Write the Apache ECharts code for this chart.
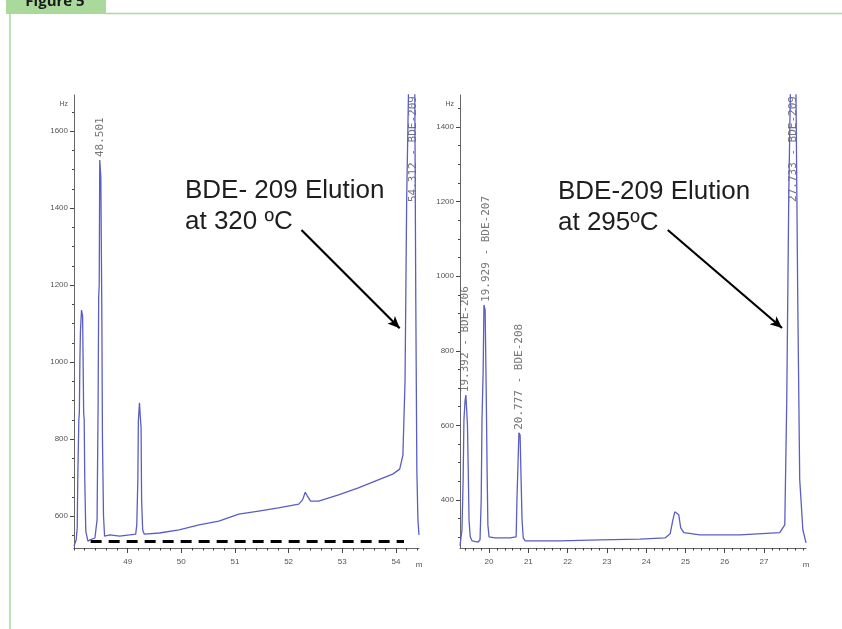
<!DOCTYPE html>
<html><head><meta charset="utf-8">
<script src="https://cdn.jsdelivr.net/npm/echarts@6/dist/echarts.min.js"></script>
<style>html,body{margin:0;padding:0;background:#fff}#c{width:842px;height:629px}</style>
</head><body><div id="c"></div><script>
// ---- data (time in min, abundance) ----
const leftTrace = [[48.00,522],[48.04,538],[48.06,569],[48.07,694],[48.09,849],[48.10,870],[48.11,1005],[48.12,1080],[48.14,1135],[48.15,1140],[48.16,1120],[48.17,1000],[48.18,868],[48.19,850],[48.20,700],[48.22,560],[48.26,535],[48.30,538],[48.39,543],[48.43,590],[48.45,900],[48.46,1169],[48.47,1200],[48.48,1525],[48.50,1480],[48.52,1100],[48.53,805],[48.55,600],[48.57,548],[48.67,551],[48.85,548],[49.04,551],[49.15,553],[49.17,577],[49.19,694],[49.20,849],[49.22,894],[49.24,850],[49.25,830],[49.26,642],[49.28,564],[49.31,553],[49.59,556],[49.96,564],[50.33,577],[50.70,587],[51.07,605],[51.44,613],[51.81,621],[52.19,631],[52.26,642],[52.31,662],[52.35,652],[52.41,639],[52.56,639],[52.93,655],[53.30,673],[53.67,694],[53.94,709],[54.07,722],[54.13,758],[54.17,953],[54.20,1421],[54.24,1750],[54.30,2600],[54.35,1750],[54.37,1161],[54.39,719],[54.41,590],[54.43,551]];
const rightTrace = [[19.26,277],[19.31,320],[19.34,454],[19.36,614],[19.39,668],[19.41,681],[19.43,641],[19.45,600],[19.47,480],[19.49,346],[19.52,301],[19.57,290],[19.72,287],[19.77,293],[19.80,400],[19.82,614],[19.85,748],[19.87,923],[19.90,909],[19.92,748],[19.93,668],[19.95,480],[19.97,333],[20.00,301],[20.15,298],[20.53,298],[20.69,301],[20.71,400],[20.74,507],[20.76,580],[20.79,574],[20.81,480],[20.84,346],[20.87,298],[20.92,290],[21.81,290],[22.82,293],[23.84,295],[24.48,298],[24.61,309],[24.68,346],[24.73,368],[24.78,373],[24.83,360],[24.88,325],[24.96,312],[25.37,306],[26.39,306],[27.40,312],[27.53,333],[27.58,668],[27.63,1204],[27.68,1550],[27.73,2800],[27.81,1550],[27.86,936],[27.91,454],[27.99,320],[28.07,285]];
const leftPeakLabels = [[48.48,1525,'48.501'],[54.312,1408,'54.312 - BDE-209']];
const rightPeakLabels = [[19.392,681,'19.392 - BDE-206'],[19.929,923,'19.929 - BDE-207'],[20.777,580,'20.777 - BDE-208'],[27.733,1191,'27.733 - BDE-209']];
const leftXTicks = [49,50,51,52,53,54];
const rightXTicks = [20,21,22,23,24,25,26,27];
const leftYTicks = [600,800,1000,1200,1400,1600];
const rightYTicks = [400,600,800,1000,1200,1400];
const leftArrow = [[52.24,1343],[54.07,1088]];
const rightArrow = [[24.55,1124],[27.46,861]];
const leftDashed = [[48.31,535],[54.15,535]];
const annotations = ['BDE- 209 Elution\nat 320 ºC','BDE-209 Elution\nat 295ºC'];
const xRange = {left:[48.0,54.43], right:[19.26,28.07]};
const yRange = {left:[517,1694], right:[271,1486]};

function steps(lo,hi,st){const o=[];for(let v=Math.ceil(lo/st-1e-9)*st;v<=hi+1e-9;v+=st)o.push(+v.toFixed(3));return o;}

const lineColor = '#5a5ec4';
const axisColor = '#666';
const lblStyle = {fontSize:8,color:'#555',fontFamily:'Liberation Sans',formatter:v=>String(v)};

function majorX(grid,rng,ticks){return {type:'value',gridIndex:grid,min:rng[0],max:rng[1],position:'bottom',
  name:'m',nameLocation:'end',nameGap:0,nameTextStyle:{fontSize:8,color:'#555',align:'center',verticalAlign:'top',padding:[13,0,0,0]},
  axisLine:{show:true,onZero:false,lineStyle:{color:axisColor,width:1}},
  axisTick:{show:true,customValues:ticks,length:5,lineStyle:{color:'#444'}},
  axisLabel:{customValues:ticks,margin:10,...lblStyle},splitLine:{show:false}};}
function minorX(grid,rng){return {type:'value',gridIndex:grid,min:rng[0],max:rng[1],position:'bottom',
  axisLine:{show:false,onZero:false},axisTick:{show:true,customValues:steps(rng[0],rng[1],0.2),length:2.5,lineStyle:{color:'#444'}},
  axisLabel:{show:false},splitLine:{show:false}};}
function majorY(grid,rng,ticks){return {type:'value',gridIndex:grid,min:rng[0],max:rng[1],position:'left',
  name:'Hz',nameLocation:'end',nameGap:-6,nameTextStyle:{fontSize:7,color:'#555',align:'right',verticalAlign:'top',padding:[0,6,0,0]},
  axisLine:{show:true,onZero:false,lineStyle:{color:axisColor,width:1}},
  axisTick:{show:true,customValues:ticks,length:4,lineStyle:{color:'#444'}},
  axisLabel:{customValues:ticks,margin:6,...lblStyle},splitLine:{show:false}};}
function minorY(grid,rng){return {type:'value',gridIndex:grid,min:rng[0],max:rng[1],position:'left',
  axisLine:{show:false,onZero:false},axisTick:{show:true,customValues:steps(rng[0],rng[1],50),length:2,lineStyle:{color:'#444'}},
  axisLabel:{show:false},splitLine:{show:false}};}

function peakLabelSeries(xi,yi,d){return {type:'scatter',xAxisIndex:xi,yAxisIndex:yi,symbolSize:0,silent:true,
  data:d.map(p=>({value:[p[0],p[1]],name:p[2]})),
  label:{show:true,formatter:p=>p.name,position:'top',distance:3,rotate:90,align:'left',verticalAlign:'middle',
    fontSize:11,fontFamily:'DejaVu Sans Mono',color:'#555'}};}

function arrowLine(a){return [{coord:a[0],symbol:'none'},{coord:a[1],symbol:'arrow',symbolSize:[8,12]}];}

const option = {
  animation:false,
  backgroundColor:'#fff',
  grid:[{left:74,top:95,width:345,height:453},{left:460,top:95,width:346,height:453}],
  xAxis:[majorX(0,xRange.left,leftXTicks),minorX(0,xRange.left),majorX(1,xRange.right,rightXTicks),minorX(1,xRange.right)],
  yAxis:[majorY(0,yRange.left,leftYTicks),minorY(0,yRange.left),majorY(1,yRange.right,rightYTicks),minorY(1,yRange.right)],
  series:[
    {type:'line',xAxisIndex:0,yAxisIndex:0,data:leftTrace,showSymbol:false,clip:true,
      lineStyle:{color:lineColor,width:1.3},
      markLine:{silent:true,label:{show:false},symbol:'none',animation:false,
        data:[
          [{coord:leftDashed[0],lineStyle:{color:'#000',width:3,type:[11,7]}},{coord:leftDashed[1]}],
          arrowLine(leftArrow)
        ],
        lineStyle:{color:'#000',width:2.2,type:'solid'}}},
    peakLabelSeries(0,0,leftPeakLabels),
    {type:'line',xAxisIndex:2,yAxisIndex:2,data:rightTrace,showSymbol:false,clip:true,
      lineStyle:{color:lineColor,width:1.3},
      markLine:{silent:true,label:{show:false},symbol:'none',animation:false,
        data:[arrowLine(rightArrow)],
        lineStyle:{color:'#000',width:2.2,type:'solid'}}},
    peakLabelSeries(2,2,rightPeakLabels)
  ],
  graphic:[
    {type:'rect',shape:{x:6,y:-14,width:100,height:28,r:[8,12,0,0]},style:{fill:'#a9d99b'},silent:true},
    {type:'line',shape:{x1:105,y1:13.5,x2:842,y2:13.5},style:{stroke:'#a9d99b',lineWidth:1.5},silent:true},
    {type:'line',shape:{x1:10,y1:13,x2:10,y2:629},style:{stroke:'#a9d99b',lineWidth:1.5},silent:true},
    {type:'text',x:55,y:-6,style:{text:'Figure 5',fontSize:15,fontWeight:'bold',fontFamily:'Open Sans',fill:'#1a1a1a',align:'center',verticalAlign:'top'},silent:true},
    {type:'text',x:185,y:175,style:{text:annotations[0],fontSize:26,lineHeight:31,fontFamily:'Liberation Sans',fill:'#1e1e1e',verticalAlign:'top'},silent:true},
    {type:'text',x:558,y:176,style:{text:annotations[1],fontSize:26,lineHeight:31,fontFamily:'Liberation Sans',fill:'#1e1e1e',verticalAlign:'top'},silent:true}
  ]
};
const chart = echarts.init(document.getElementById('c'),null,{renderer:'canvas'});
chart.setOption(option);
</script></body></html>
